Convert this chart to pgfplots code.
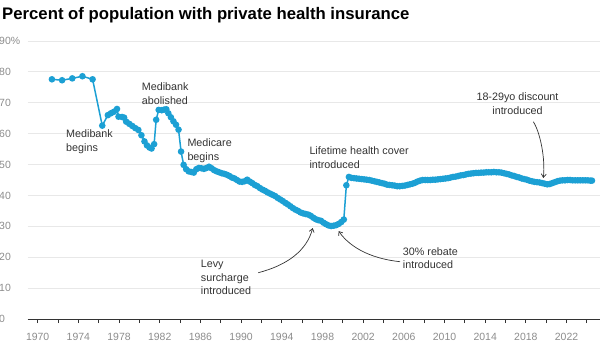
\documentclass[border=0pt]{standalone}
\usepackage{fontspec}
\setmainfont{Liberation Sans}
\usepackage{pgfplots}
\pgfplotsset{compat=1.18}
\usetikzlibrary{arrows.meta}
\definecolor{lineblue}{RGB}{28,160,212}
\definecolor{ann}{RGB}{51,51,51}
\definecolor{tickgray}{RGB}{140,140,140}
\definecolor{gridgray}{RGB}{232,232,232}
\pgfplotstableread{
year val
1971.4 77.6
1972.4 77.3
1973.4 77.9
1974.4 78.6
1975.4 77.6
1976.35 62.6
1976.9 66.0
1977.2 66.6
1977.5 67.1
1977.8 68.0
1977.95 65.5
1978.3 65.4
1978.5 65.2
1978.7 63.9
1979.0 63.2
1979.3 62.5
1979.6 61.8
1979.9 61.2
1980.2 59.5
1980.5 57.5
1980.75 56.2
1981.0 55.5
1981.2 55.2
1981.45 56.6
1981.65 64.5
1981.9 67.7
1982.2 67.6
1982.45 67.8
1982.65 67.9
1982.85 66.6
1983.1 65.3
1983.35 64.0
1983.6 62.9
1983.85 61.3
1984.1 54.2
1984.35 49.9
1984.6 48.5
1984.85 47.8
1985.1 47.6
1985.35 47.4
1985.6 48.5
1985.85 48.9
1986.1 48.8
1986.35 48.6
1986.6 48.9
1986.85 49.3
1987.1 48.8
1987.35 48.2
1987.6 47.8
1987.85 47.5
1988.1 47.2
1988.35 47.0
1988.6 46.7
1988.85 46.3
1989.1 45.8
1989.35 45.5
1989.6 45.0
1989.85 44.5
1990.1 44.4
1990.35 44.6
1990.6 45.1
1990.85 44.5
1991.1 44.0
1991.35 43.4
1991.6 43.0
1991.85 42.4
1992.1 41.9
1992.35 41.5
1992.6 41.0
1992.85 40.6
1993.1 40.2
1993.35 39.8
1993.6 39.2
1993.85 38.7
1994.1 38.2
1994.35 37.6
1994.6 37.1
1994.85 36.5
1995.1 35.9
1995.35 35.4
1995.6 35.0
1995.85 34.5
1996.1 34.2
1996.35 34.0
1996.6 33.8
1996.85 33.4
1997.1 32.8
1997.35 32.3
1997.6 32.0
1997.85 31.8
1998.1 31.2
1998.35 30.7
1998.6 30.3
1998.85 30.1
1999.1 30.2
1999.35 30.4
1999.6 30.8
1999.85 31.4
2000.1 32.2
2000.35 43.3
2000.6 46.0
2000.85 45.7
2001.1 45.6
2001.35 45.5
2001.6 45.4
2001.85 45.3
2002.1 45.2
2002.35 45.1
2002.6 45.0
2002.85 44.8
2003.1 44.6
2003.35 44.4
2003.6 44.2
2003.85 44.0
2004.1 43.8
2004.35 43.5
2004.6 43.4
2004.85 43.3
2005.1 43.2
2005.35 43.0
2005.6 43.0
2005.85 43.1
2006.1 43.2
2006.35 43.4
2006.6 43.6
2006.85 43.8
2007.1 44.1
2007.35 44.5
2007.6 44.8
2007.85 45.0
2008.1 45.0
2008.35 45.0
2008.6 45.0
2008.85 45.1
2009.1 45.1
2009.35 45.2
2009.6 45.3
2009.85 45.4
2010.1 45.5
2010.35 45.6
2010.6 45.8
2010.85 46.0
2011.1 46.1
2011.35 46.3
2011.6 46.5
2011.85 46.6
2012.1 46.8
2012.35 47.0
2012.6 47.1
2012.85 47.2
2013.1 47.3
2013.35 47.3
2013.6 47.4
2013.85 47.4
2014.1 47.5
2014.35 47.5
2014.6 47.5
2014.85 47.6
2015.1 47.5
2015.35 47.5
2015.6 47.4
2015.85 47.2
2016.1 47.0
2016.35 46.8
2016.6 46.5
2016.85 46.3
2017.1 46.0
2017.35 45.8
2017.6 45.5
2017.85 45.3
2018.1 45.1
2018.35 44.8
2018.6 44.6
2018.85 44.4
2019.1 44.3
2019.35 44.2
2019.6 44.0
2019.85 43.8
2020.1 43.6
2020.35 43.7
2020.6 44.0
2020.85 44.3
2021.1 44.6
2021.35 44.8
2021.6 44.9
2021.85 44.9
2022.1 45.0
2022.35 45.0
2022.6 44.9
2022.85 44.9
2023.1 44.9
2023.35 44.9
2023.6 44.9
2023.85 44.9
2024.1 44.9
2024.35 44.8
2024.5 44.8
}\phi
\begin{document}
\begin{tikzpicture}[x=1bp,y=1bp]
\useasboundingbox (0,0) rectangle (600,-348);
\begin{axis}[
  at={(27.5bp,-319bp)}, anchor=south west,
  scale only axis, width=572.1bp, height=278bp,
  xmin=1969, xmax=2025.25, ymin=0, ymax=90,
  axis x line*=bottom, axis y line*=left,
  y axis line style={draw=none},
  x axis line style={draw=ann, line width=0.9bp},
  xtick={1970,1974,1978,1982,1986,1990,1994,1998,2002,2006,2010,2014,2018,2022},
  xticklabels={1970,1974,1978,1982,1986,1990,1994,1998,2002,2006,2010,2014,2018,2022},
  minor xtick={1972,1976,1980,1984,1988,1992,1996,2000,2004,2008,2012,2016,2020,2024},
  tick align=outside,
  major tick length=4bp, minor tick length=4bp,
  xtick style={draw=ann, line width=0.8bp},
  minor x tick style={draw=ann, line width=0.8bp},
  ytick={0,10,20,30,40,50,60,70,80,90},
  yticklabels={0,10,20,30,40,50,60,70,80,90\%},
  ytick style={draw=none},
  ymajorgrids, grid style={draw=gridgray, line width=0.8bp},
  /pgf/number format/assume math mode=true,
  ticklabel style={font=\fontsize{10.5}{12}\selectfont, text=tickgray},
  yticklabel style={anchor=west, inner sep=0pt, xshift=-24.5bp},
  xticklabel style={inner sep=0pt, yshift=-10bp},
  clip=false,
]
\addplot[draw=lineblue, line width=1.5bp, mark=*, mark size=2.5bp,
  mark options={fill=lineblue, draw=none}] table[x=year, y=val] {\phi};
\end{axis}
\node[anchor=base west, inner sep=0pt, font=\fontsize{16.8}{20}\selectfont\bfseries] at (2,-19.5) {Percent of population with private health insurance};
\begin{scope}[every node/.style={inner sep=0pt, text=ann, font=\fontsize{10.8}{13}\selectfont}]
\node[anchor=base west] at (66,-137) {Medibank};
\node[anchor=base west] at (66,-151) {begins};
\node[anchor=base west] at (141.7,-90.7) {Medibank};
\node[anchor=base west] at (141.7,-104.7) {abolished};
\node[anchor=base west] at (187.3,-146.5) {Medicare};
\node[anchor=base west] at (187.3,-160) {begins};
\node[anchor=base west] at (309.3,-154.5) {Lifetime health cover};
\node[anchor=base west] at (309.3,-168) {introduced};
\node[anchor=base west] at (200.7,-267.5) {Levy};
\node[anchor=base west] at (200.7,-281) {surcharge};
\node[anchor=base west] at (200.7,-294.5) {introduced};
\node[anchor=base west] at (402.7,-255) {30\% rebate};
\node[anchor=base west] at (402.7,-268) {introduced};
\node[anchor=base] at (517.5,-100.5) {18-29yo discount};
\node[anchor=base] at (517.5,-114) {introduced};
\end{scope}
\begin{scope}[draw=ann, line width=0.7bp, -{Straight Barb[length=3.5bp, width=5bp]}]
\draw (258.3,-272.7) .. controls (288,-265) and (307,-250) .. (312.7,-228);
\draw (400,-261.7) .. controls (375,-259) and (352,-250) .. (338.5,-231);
\draw (533.3,-121.7) .. controls (540,-132) and (545.5,-158) .. (543.3,-178);
\end{scope}
\end{tikzpicture}
\end{document}
